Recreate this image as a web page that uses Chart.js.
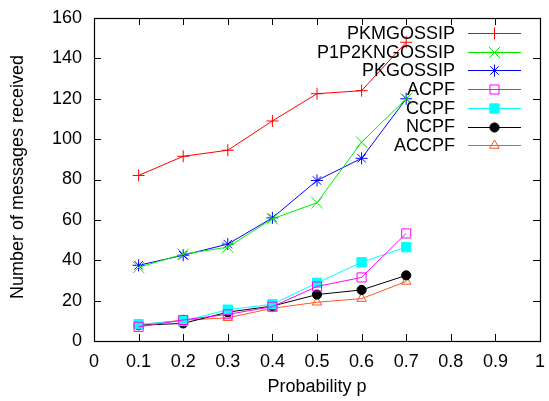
<!DOCTYPE html>
<html>
<head>
<meta charset="utf-8">
<script src="https://cdn.jsdelivr.net/npm/chart.js@4/dist/chart.umd.min.js"></script>
<style>
  html, body { margin: 0; padding: 0; background: #fff; }
  #wrap { width: 549px; height: 401px; }
</style>
</head>
<body>
<div id="wrap"><canvas id="msgChart"></canvas></div>
<script>
// values
var probs = [0.1, 0.2, 0.3, 0.4, 0.5, 0.6, 0.7];
var pkmGossip   = [82, 91.5, 94.5, 109, 122.5, 124, 148];
var p1p2Gossip  = [36.5, 43, 46.5, 60.5, 68.5, 98.5, 120];
var pkGossip    = [37.5, 42.5, 48, 61, 79.5, 90.5, 120];
var acpf        = [7, 10.4, 13.2, 17, 27, 31.5, 53.3];
var ccpf        = [8.3, 9.9, 15.5, 18.2, 28.8, 39, 46.5];
var ncpf        = [7.8, 8.7, 14.3, 17.3, 23, 25.3, 32.5];
var accpf       = [8, 10.3, 11.5, 16.2, 19.2, 21, 29.5];
var xTicks = [0, 0.1, 0.2, 0.3, 0.4, 0.5, 0.6, 0.7, 0.8, 0.9, 1];
var yTicks = [0, 20, 40, 60, 80, 100, 120, 140, 160];

var FONT = "'Liberation Sans', Arial, sans-serif";

function pts(vals) {
    var out = [];
    for (var i = 0; i < probs.length; i++) {
        out.push({ x: probs[i], y: vals[i] });
    }
    return out;
}

function series(label, vals, color, style, radius, fill) {
    return {
        label: label,
        data: pts(vals),
        borderColor: color,
        backgroundColor: fill || "rgba(0,0,0,0)",
        borderWidth: 1,
        pointStyle: style,
        pointRadius: radius,
        pointBorderColor: color,
        pointBackgroundColor: fill || "rgba(0,0,0,0)",
        pointBorderWidth: 1,
        showLine: true,
        tension: 0
    };
}

// gnuplot style frame, inward ticks, key and axis titles
var gnuFrame = {
    id: "gnuFrame",
    afterDatasetsDraw: function (chart) {
        var ctx = chart.ctx;
        var a = chart.chartArea;
        var xs = chart.scales.x, ys = chart.scales.y;
        var tl = 7;
        ctx.save();
        ctx.strokeStyle = "#000";
        ctx.lineWidth = 1;
        ctx.beginPath();
        xTicks.forEach(function (v) {
            var px = Math.round(xs.getPixelForValue(v)) + 0.5;
            ctx.moveTo(px, a.bottom); ctx.lineTo(px, a.bottom - tl);
            ctx.moveTo(px, a.top); ctx.lineTo(px, a.top + tl);
        });
        yTicks.forEach(function (v) {
            var py = Math.round(ys.getPixelForValue(v)) + 0.5;
            ctx.moveTo(a.left, py); ctx.lineTo(a.left + tl, py);
            ctx.moveTo(a.right, py); ctx.lineTo(a.right - tl, py);
        });
        ctx.stroke();
        ctx.lineWidth = 1.2;
        ctx.strokeRect(Math.round(a.left) + 0.5, Math.round(a.top) + 0.5,
            Math.round(a.right - a.left), Math.round(a.bottom - a.top));

        // key
        ctx.font = "18px " + FONT;
        ctx.textAlign = "right";
        ctx.textBaseline = "middle";
        chart.data.datasets.forEach(function (ds, i) {
            var y = 33 + i * 18.7;
            ctx.fillStyle = "#000";
            ctx.fillText(ds.label, 455, y + 1);
            ctx.strokeStyle = ds.borderColor;
            ctx.lineWidth = 1;
            ctx.beginPath();
            ctx.moveTo(468, Math.round(y) + 0.5);
            ctx.lineTo(521, Math.round(y) + 0.5);
            ctx.stroke();
            ctx.fillStyle = ds.pointBackgroundColor;
            Chart.helpers.drawPoint(ctx, {
                pointStyle: ds.pointStyle,
                radius: ds.pointRadius,
                rotation: 0,
                borderWidth: 1
            }, 494.5, Math.round(y) + 0.5);
        });

        // axis titles
        ctx.fillStyle = "#000";
        ctx.textAlign = "center";
        ctx.fillText("Probability p", (a.left + a.right) / 2, 387);
        ctx.translate(18, 177);
        ctx.rotate(-Math.PI / 2);
        ctx.fillText("Number of messages received", 0, 0);
        ctx.restore();
    }
};

var ctx = document.getElementById("msgChart").getContext("2d");
new Chart(ctx, {
    type: "scatter",
    data: {
        datasets: [
            series("PKMGOSSIP", pkmGossip, "#ff0000", "cross", 6),
            series("P1P2KNGOSSIP", p1p2Gossip, "#00ee00", "crossRot", 8),
            series("PKGOSSIP", pkGossip, "#0000ff", "star", 6),
            series("ACPF", acpf, "#ff00ff", "rect", 6.4),
            series("CCPF", ccpf, "#00ffff", "rect", 6.6, "#00ffff"),
            series("NCPF", ncpf, "#000000", "circle", 4.6, "#000000"),
            series("ACCPF", accpf, "#ff5522", "triangle", 5.5)
        ]
    },
    options: {
        responsive: true,
        maintainAspectRatio: false,
        animation: false,
        layout: { padding: { top: 18, right: 3, left: 0, bottom: 0 } },
        plugins: {
            legend: { display: false },
            tooltip: { enabled: false }
        },
        scales: {
            x: {
                type: "linear",
                min: 0,
                max: 1,
                afterFit: function (s) {
                    s.height = 60;
                    s.paddingLeft = 0;
                    s.paddingRight = 0;
                },
                afterBuildTicks: function (s) {
                    s.ticks = xTicks.map(function (v) { return { value: v }; });
                },
                grid: { display: false, drawTicks: false },
                border: { display: false },
                ticks: {
                    font: { size: 18, family: FONT },
                    color: "#000",
                    padding: 10,
                    maxRotation: 0,
                    autoSkip: false,
                    callback: function (v) { return String(Number(v.toFixed(1))); }
                }
            },
            y: {
                min: 0,
                max: 160,
                afterFit: function (s) {
                    s.width = 94;
                    s.paddingTop = 0;
                    s.paddingBottom = 0;
                },
                afterBuildTicks: function (s) {
                    s.ticks = yTicks.map(function (v) { return { value: v }; });
                },
                grid: { display: false, drawTicks: false },
                border: { display: false },
                ticks: {
                    font: { size: 18, family: FONT },
                    color: "#000",
                    padding: 12
                }
            }
        }
    },
    plugins: [gnuFrame]
});
</script>
</body>
</html>
